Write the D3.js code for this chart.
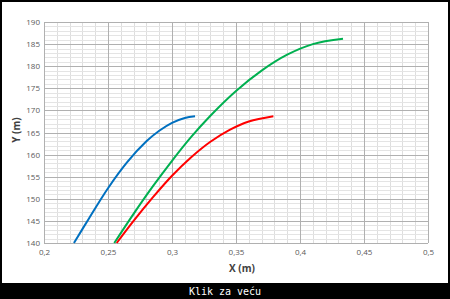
<!DOCTYPE html>
<meta charset="utf-8">
<style>
body { margin: 0; background: #000; }
.tick text { font: 8px "Open Sans", sans-serif; fill: #595959; }
.axis-title { font: bold 10px "Open Sans", sans-serif; fill: #404040; }
.caption { font: 10px "DejaVu Sans Mono", monospace; fill: #fff; }
</style>
<svg width="450" height="299"></svg>
<script src="https://cdn.jsdelivr.net/npm/d3@7"></script>
<script>

// series: [x (m), y (m)]
var blue = [[0.2234,140],[0.235,145.5],[0.25,152.4],[0.265,158.3],[0.28,163.0],[0.29,165.4],[0.30,167.2],[0.31,168.3],[0.318,168.7]];
var green = [[0.2549,140],[0.27,146.6],[0.285,152.8],[0.30,158.6],[0.315,164],[0.33,168.8],[0.35,174.4],[0.37,179.0],[0.39,182.6],[0.41,185.0],[0.4336,186.2]];
var red = [[0.2568,140],[0.27,145],[0.285,150.3],[0.30,155.2],[0.315,159.4],[0.33,162.9],[0.345,165.6],[0.36,167.5],[0.3792,168.7]];

var xTicks = [0.2, 0.25, 0.3, 0.35, 0.4, 0.45, 0.5];
var yTicks = [140, 145, 150, 155, 160, 165, 170, 175, 180, 185, 190];

var svg = d3.select("svg");

// white card inside the black frame
svg.append("rect").attr("x", 2).attr("y", 2).attr("width", 446).attr("height", 281).style("fill", "#fff");

var x = d3.scaleLinear().domain([0.2, 0.5]).range([44, 428]);
var y = d3.scaleLinear().domain([140, 190]).range([243, 22]);

var grid = svg.append("g");

// minor grid
grid.selectAll(".vmin")
  .data(d3.range(0, 31).map(function(i) { return 0.2 + i * 0.01; }))
  .enter().append("line")
    .attr("x1", function(d) { return Math.round(x(d)) + 0.5; })
    .attr("x2", function(d) { return Math.round(x(d)) + 0.5; })
    .attr("y1", y(140)).attr("y2", y(190))
    .style("stroke", "#dedede");

grid.selectAll(".hmin")
  .data(d3.range(140, 191, 1))
  .enter().append("line")
    .attr("y1", function(d) { return Math.round(y(d)) + 0.5; })
    .attr("y2", function(d) { return Math.round(y(d)) + 0.5; })
    .attr("x1", x(0.2)).attr("x2", x(0.5))
    .style("stroke", "#e4e4e4");

// major grid
grid.selectAll(".vmaj")
  .data(xTicks)
  .enter().append("line")
    .attr("x1", function(d) { return Math.round(x(d)) + 0.5; })
    .attr("x2", function(d) { return Math.round(x(d)) + 0.5; })
    .attr("y1", y(140)).attr("y2", y(190))
    .style("stroke", "#b0b0b0");

grid.selectAll(".hmaj")
  .data(yTicks)
  .enter().append("line")
    .attr("y1", function(d) { return Math.round(y(d)) + 0.5; })
    .attr("y2", function(d) { return Math.round(y(d)) + 0.5; })
    .attr("x1", x(0.2)).attr("x2", x(0.5))
    .style("stroke", "#b0b0b0");

var fmt = function(d) { return String(d).replace(".", ","); };

var xAxis = svg.append("g")
    .attr("transform", "translate(0," + y(140) + ")")
    .call(d3.axisBottom(x).tickValues(xTicks).tickFormat(fmt).tickSize(0).tickPadding(6));
xAxis.select(".domain").remove();

var yAxis = svg.append("g")
    .attr("transform", "translate(" + x(0.2) + ",0)")
    .call(d3.axisLeft(y).tickValues(yTicks).tickSize(0).tickPadding(4));
yAxis.select(".domain").remove();

svg.append("text").attr("class", "axis-title")
    .attr("x", 242).attr("y", 272).attr("text-anchor", "middle")
    .text("X (m)");

svg.append("text").attr("class", "axis-title")
    .attr("transform", "translate(20,130) rotate(-90)").attr("text-anchor", "middle")
    .text("Y (m)");

var line = d3.line()
    .x(function(d) { return x(d[0]); })
    .y(function(d) { return y(d[1]); })
    .curve(d3.curveCatmullRom.alpha(0.5));

[[blue, "#0070c0"], [green, "#00b050"], [red, "#ff0000"]].forEach(function(s) {
  svg.append("path")
    .datum(s[0])
    .attr("d", line)
    .style("fill", "none")
    .style("stroke", s[1])
    .style("stroke-width", 2);
});

svg.append("text").attr("class", "caption")
    .attr("x", 225).attr("y", 295).attr("text-anchor", "middle")
    .text("Klik za veću");

</script>
